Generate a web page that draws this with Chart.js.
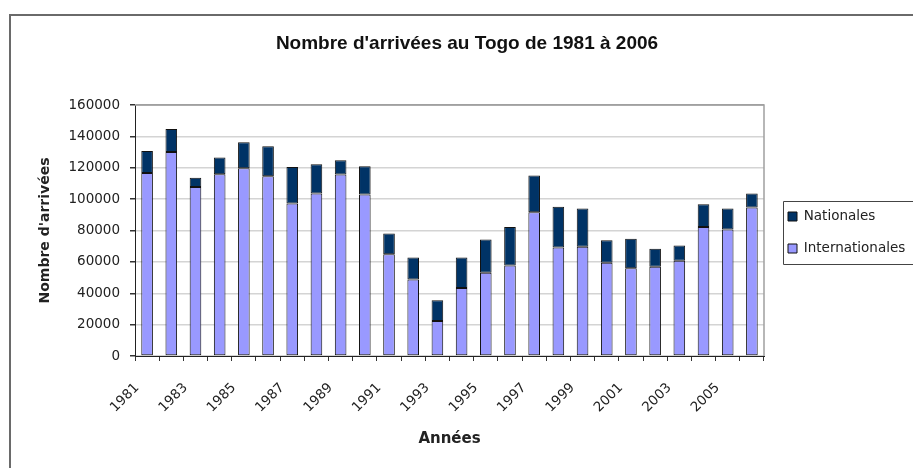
<!DOCTYPE html>
<html>
<head>
<meta charset="utf-8">
<script src="https://cdn.jsdelivr.net/npm/chart.js@4.4.1/dist/chart.umd.min.js"></script>
<style>
  html, body { margin: 0; padding: 0; background: #ffffff; }
  #wrap { width: 913px; height: 468px; }
</style>
</head>
<body>
<div id="wrap"><canvas id="c" width="913" height="468"></canvas></div>
<script>
// ---- Data ----
const years = ['1981','1982','1983','1984','1985','1986','1987','1988','1989','1990','1991','1992','1993',
               '1994','1995','1996','1997','1998','1999','2000','2001','2002','2003','2004','2005','2006'];
const internationales = [116700,130100,107800,115900,119700,114600,97200,103600,115700,102900,64900,48800,22300,
                         43300,53000,57700,91700,69200,69600,59400,56000,56900,60700,82300,80600,94600];
const nationales = [14000,14600,5900,10600,16500,19100,23300,18600,9100,18100,13200,14000,13300,
                    19500,21300,24600,23300,25900,24400,14400,18700,11400,9700,14500,13400,9000];
const yTicks = [0,20000,40000,60000,80000,100000,120000,140000,160000];

const chartTitle = "Nombre d'arrivées au Togo de 1981 à 2006";
const xTitle = 'Années';
const yTitle = "Nombre d'arrivées";

const FONT = "'DejaVu Sans', 'Liberation Sans', Arial, sans-serif";

const framePlugin = {
  id: 'frame',
  beforeLayout(chart) {
    const lg = chart.legend;
    if (lg && !lg._patched) {
      const orig = lg.fit.bind(lg);
      lg.fit = function () { orig(); this.width = 140; };
      lg._patched = true;
    }
  },
  afterLayout(chart) {
    const lg = chart.legend;
    if (lg) {
      const pad = lg.options.labels.padding;
      const w = lg.width;
      lg.left = 788 - pad;
      lg.right = lg.left + w;
      lg.top -= 1.5;
      lg.bottom -= 1.5;
    }
  },
  beforeDraw(chart) {
    const ctx = chart.ctx;
    ctx.save();
    ctx.strokeStyle = '#6a6a6a';
    ctx.lineWidth = 2;
    ctx.strokeRect(10, 15, 960, 500);
    ctx.restore();
  },
  afterDraw(chart) {
    const ctx = chart.ctx;
    const a = chart.chartArea;
    ctx.save();
    // plot frame: top and right
    ctx.strokeStyle = '#a0a0a0';
    ctx.lineWidth = 1.5;
    ctx.beginPath();
    ctx.moveTo(a.left, a.top);
    ctx.lineTo(a.right, a.top);
    ctx.lineTo(a.right, a.bottom);
    ctx.stroke();
    // legend frame
    const lg = chart.legend;
    if (lg && lg.legendHitBoxes && lg.legendHitBoxes.length) {
      const hb = lg.legendHitBoxes;
      const first = hb[0], last = hb[hb.length - 1];
      const x0 = Math.round(first.left) - 5 + 0.5;
      const y0 = Math.round(first.top) - 9 + 0.5;
      const y1 = Math.round(last.top + last.height) + 9 + 0.5;
      ctx.strokeStyle = '#444';
      ctx.lineWidth = 1;
      ctx.beginPath();
      ctx.moveTo(980, y0);
      ctx.lineTo(x0, y0);
      ctx.lineTo(x0, y1);
      ctx.lineTo(980, y1);
      ctx.stroke();
    }
    ctx.restore();
  }
};

new Chart(document.getElementById('c'), {
  type: 'bar',
  data: {
    labels: years,
    datasets: [
      {
        label: 'Internationales',
        data: internationales,
        backgroundColor: '#9999ff',
        borderColor: '#111111',
        borderWidth: 1,
        borderSkipped: false,
        barPercentage: 0.48,
        categoryPercentage: 1.0
      },
      {
        label: 'Nationales',
        data: nationales,
        backgroundColor: '#003366',
        borderColor: '#111111',
        borderWidth: 1,
        borderSkipped: false,
        barPercentage: 0.48,
        categoryPercentage: 1.0
      }
    ]
  },
  options: {
    responsive: false,
    animation: false,
    devicePixelRatio: 1,
    layout: { padding: { left: 30, right: 9, top: 0, bottom: 0 } },
    plugins: {
      title: {
        display: true,
        text: chartTitle,
        color: '#111',
        font: { family: "'Liberation Sans', Arial, sans-serif", size: 19, weight: 'bold' },
        padding: { top: 32.6, bottom: 49.6 }
      },
      legend: {
        position: 'right',
        reverse: true,
        align: 'center',
        labels: {
          boxWidth: 9,
          boxHeight: 9,
          padding: 18.5,
          color: '#222',
          font: { family: FONT, size: 13.5 }
        }
      },
      tooltip: { enabled: false }
    },
    scales: {
      x: {
        stacked: true,
        offset: true,
        afterFit(scale) { scale.height = 112; },
        grid: {
          offset: true,
          drawOnChartArea: false,
          drawTicks: true,
          tickLength: 5,
          tickColor: '#333'
        },
        border: { color: '#222', width: 1 },
        ticks: {
          autoSkip: false,
          maxRotation: 45,
          minRotation: 45,
          labelOffset: -10,
          padding: 19,
          color: '#222',
          font: { family: FONT, size: 13.5 },
          callback(value, index) { return index % 2 === 0 ? years[index] : ''; }
        },
        title: {
          display: true,
          text: xTitle,
          color: '#222',
          font: { family: FONT, size: 15, weight: 'bold' },
          padding: { top: 4, bottom: 20 }
        }
      },
      y: {
        stacked: true,
        min: 0,
        max: 160000,
        afterFit(scale) { scale.width = 105; },
        afterBuildTicks(scale) { scale.ticks = yTicks.map(v => ({ value: v })); },
        grid: {
          color(ctx) { return ctx.tick && ctx.tick.value === 160000 ? '#a0a0a0' : '#d4d4d4'; },
          lineWidth: 1.5,
          tickLength: 5,
          tickColor: '#333'
        },
        border: { color: '#222', width: 1 },
        ticks: {
          padding: 10,
          color: '#222',
          font: { family: FONT, size: 13.5 },
          callback(value) { return String(value); }
        },
        title: {
          display: true,
          text: yTitle,
          color: '#222',
          font: { family: FONT, size: 14, weight: 'bold' },
          padding: { top: 6.6, bottom: 4 }
        }
      }
    }
  },
  plugins: [framePlugin]
});
</script>
</body>
</html>
